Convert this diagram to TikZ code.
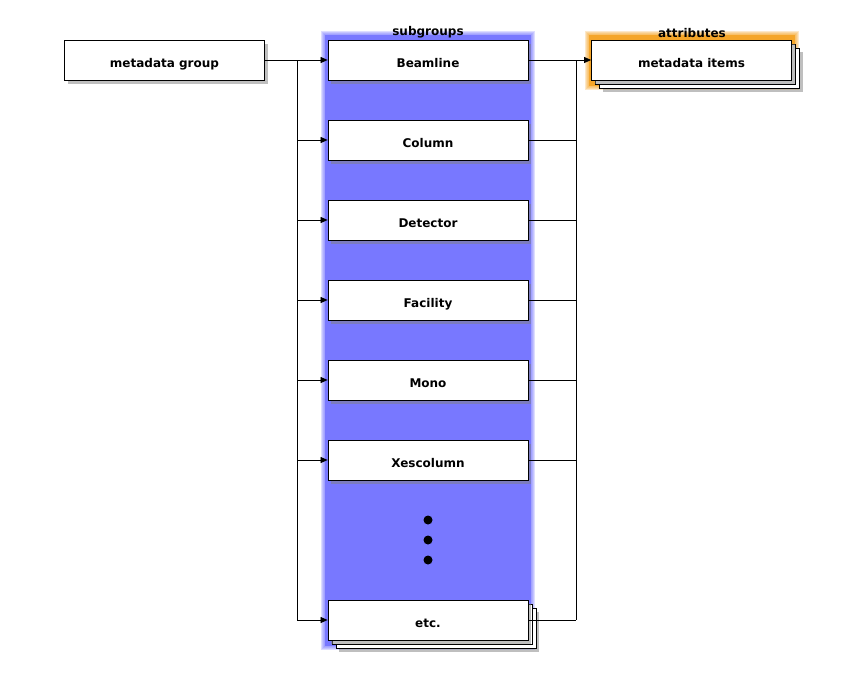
\documentclass[tikz,border=0pt]{standalone}
\usepackage{fontspec}
\setmainfont{DejaVu Sans}
\usetikzlibrary{shadows,arrows.meta}
\definecolor{bandblue}{RGB}{120,120,255}
\definecolor{bandorange}{RGB}{245,165,40}
\tikzset{
  box/.style={draw=black, fill=white, line width=0.8pt, minimum width=200pt, minimum height=40pt, inner sep=0pt,
    font=\bfseries\fontsize{12}{14}\selectfont, text height=14pt, text depth=0pt,
    drop shadow={opacity=0.5, shadow xshift=3pt, shadow yshift=-4pt}},
  plainbox/.style={draw=black, fill=white, line width=0.8pt, minimum width=200pt, minimum height=40pt, inner sep=0pt},
  lbl/.style={font=\bfseries\fontsize{12}{14}\selectfont, inner sep=0pt},
  conn/.style={line width=0.7pt},
  arr/.style={line width=0.7pt, -{Triangle[length=7pt,width=6pt]}},
  dot/.style={circle, fill=black, minimum size=9pt, inner sep=0pt}
}
\begin{document}
\begin{tikzpicture}[x=1pt,y=-1pt]
\useasboundingbox (0,0) rectangle (856,680);
% blue band with soft edge
\foreach \i in {0,...,3} {
  \fill[bandblue, opacity=0.25] ({321+\i},{31+\i}) rectangle ({535-\i},{650-\i});
}
\fill[bandblue] (325,35) rectangle (531,646);
% orange band
\foreach \i in {0,...,3} {
  \fill[bandorange, opacity=0.25] ({585+\i},{31+\i}) rectangle ({799-\i},{90-\i});
}
\fill[bandorange] (589,35) rectangle (795,86);

\node[lbl, anchor=base] (lsub) at (428,35) {subgroups};
\node[lbl, anchor=base] (lattr) at (692,37) {attributes};

\node[box] (mg) at (164.5,60) {metadata group};

\node[box] (b1) at (428,60) {Beamline};
\node[box] (b2) at (428,140) {Column};
\node[box] (b3) at (428,220) {Detector};
\node[box] (b4) at (428,300) {Facility};
\node[box] (b5) at (428,380) {Mono};
\node[box] (b6) at (428,460) {Xescolumn};

\node[dot] (d1) at (428,520) {};
\node[dot] (d2) at (428,540) {};
\node[dot] (d3) at (428,560) {};

% stacked etc
\node[box] (b7c) at (436,628) {};
\node[plainbox] (b7b) at (432,624) {};
\node[box, drop shadow={opacity=0}] (b7) at (428,620) {etc.};

% stacked metadata items
\node[box] (mic) at (699.5,68) {};
\node[plainbox] (mib) at (695.5,64) {};
\node[box, drop shadow={opacity=0}] (mi) at (691.5,60) {metadata items};

% left connectors
\coordinate (lj) at (297,60);
\draw[conn] (mg.east) -- (lj);
\draw[conn] (lj) -- (297,620);
\foreach \n in {b1,b2,b3,b4,b5,b6,b7} {
  \draw[arr] (297,0 |- \n.west) -- (\n.west);
}
% right connectors
\coordinate (rj) at (576,60);
\foreach \n in {b1,b2,b3,b4,b5,b6} {
  \draw[conn] (\n.east) -- (576,0 |- \n.east);
}
\draw[conn] (b7.east) -- (576,620);
\draw[conn] (576,60) -- (576,620);
\draw[arr] (rj) -- (mi.west);
\end{tikzpicture}
\end{document}
